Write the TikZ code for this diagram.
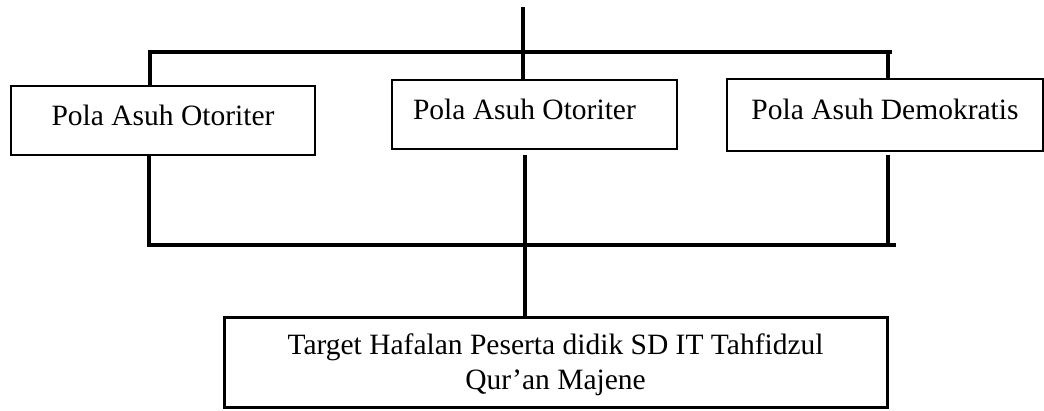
\documentclass[tikz,border=0pt]{standalone}
\usepackage{fontspec}
\setmainfont{Liberation Serif}
\begin{document}
\tikzset{
  box/.style={draw, line width=2.3pt, rectangle, inner sep=0pt,
    font=\fontsize{29.5}{35}\selectfont},
  onerow/.style={text height=20pt, text depth=11pt},
  conn/.style={line width=3.5pt},
}
\begin{tikzpicture}[x=1pt,y=-1pt]
\useasboundingbox (0,0) rectangle (1044,410);
% boxes
\node[box, onerow, minimum width=304pt, minimum height=69pt] (b1) at (163,120.5) {Pola Asuh Otoriter};
\node[box, onerow, minimum width=285pt, minimum height=69pt, text width=243pt, align=flush left, inner xsep=21pt] (b2) at (534.5,114.5) {Pola Asuh Otoriter};
\node[box, onerow, minimum width=316pt, minimum height=72pt] (b3) at (885,115) {Pola Asuh Demokratis};
\node[box, line width=3pt, minimum width=663pt, minimum height=90pt, align=center, text depth=0pt] (b4) at (555.5,362) {Target Hafalan Peserta didik SD IT Tahfidzul\\Qur’an Majene};
% coordinates
\coordinate (top) at (523,7);
\coordinate (tl) at (150,52);
\coordinate (tr) at (892,52);
\coordinate (rj) at (888,52);
\coordinate (bl) at (149,245);
\coordinate (br) at (896,245);
\coordinate (bm) at (525,245);
\coordinate (brj) at (888,245);
% upper connectors
\draw[conn] (top) -- (top |- b2.north);
\draw[conn] (tl |- b1.north) -- (tl) -- (tr);
\draw[conn] (rj) -- (rj |- b3.north);
% lower connectors
\draw[conn] (bl |- b1.south) -- (bl) -- (br);
\draw[conn] ([yshift=-3pt]brj |- b3.south) -- (brj);
\draw[conn] ([yshift=-5pt]bm |- b2.south) -- (bm |- b4.north);
\end{tikzpicture}
\end{document}
